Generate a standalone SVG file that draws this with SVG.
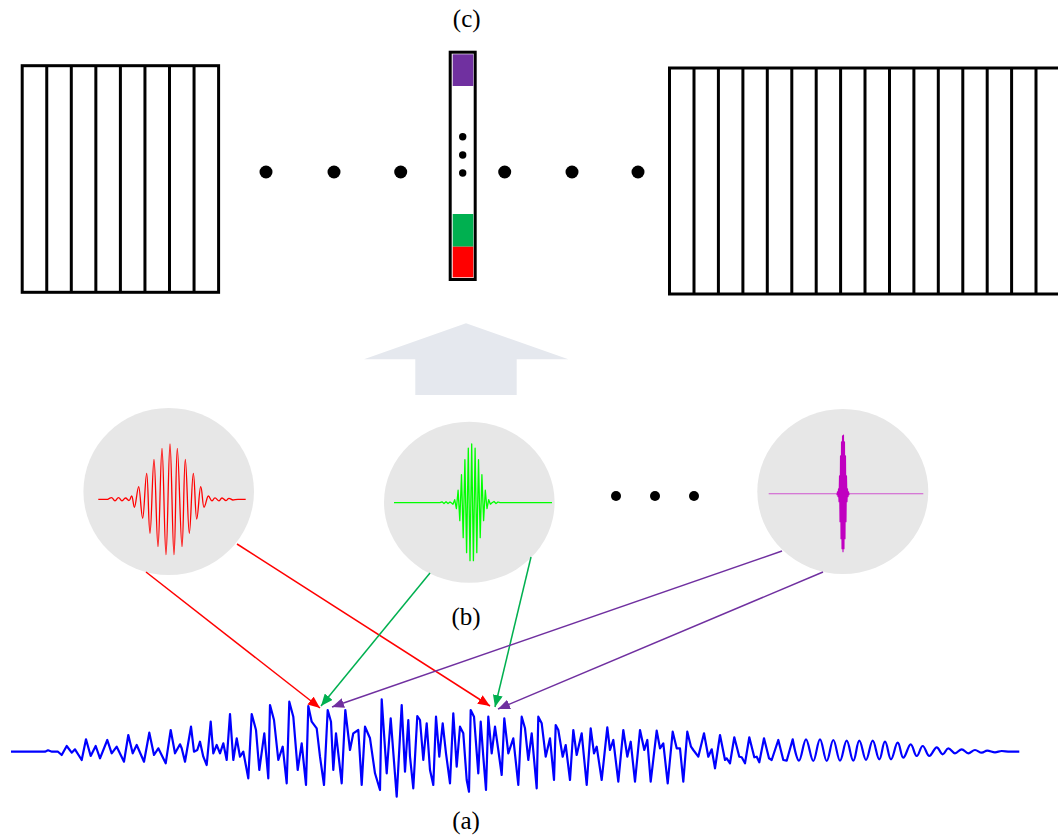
<svg xmlns="http://www.w3.org/2000/svg" width="1058" height="839" viewBox="0 0 1058 839">
  <style>
    .grid { fill: #ffffff; stroke: #000000; stroke-width: 3; }
    .bar { stroke: #000000; stroke-width: 3; }
    .dot { fill: #000000; }
    .atom { fill: #e7e7e7; }
    .wave { fill: none; stroke-linejoin: round; }
    .link { fill: none; stroke-width: 1.5; }
    .label { font-family: "Liberation Serif", "Times New Roman", serif; font-size: 25px; fill: #000000; text-anchor: middle; }
  </style>
  <defs>
    <marker id="head-red" viewBox="0 0 12 10" refX="12" refY="5" markerWidth="12" markerHeight="10" markerUnits="userSpaceOnUse" orient="auto">
      <path d="M0,0 L12,5 L0,10 z" fill="#ff0000"/>
    </marker>
    <marker id="head-green" viewBox="0 0 12 10" refX="12" refY="5" markerWidth="12" markerHeight="10" markerUnits="userSpaceOnUse" orient="auto">
      <path d="M0,0 L12,5 L0,10 z" fill="#00b050"/>
    </marker>
    <marker id="head-purple" viewBox="0 0 12 10" refX="12" refY="5" markerWidth="12" markerHeight="10" markerUnits="userSpaceOnUse" orient="auto">
      <path d="M0,0 L12,5 L0,10 z" fill="#7030a0"/>
    </marker>
  </defs>

  <rect width="1058" height="839" fill="#ffffff"/>

  <!-- dictionary block on the left: 8 columns -->
  <g id="grid-left">
    <rect class="grid" x="22.2" y="65.7" width="196.4" height="226.6"/>
    <path class="bar" d="M46.75,65.7V292.3 M71.3,65.7V292.3 M95.85,65.7V292.3 M120.4,65.7V292.3 M144.95,65.7V292.3 M169.5,65.7V292.3 M194.05,65.7V292.3"/>
  </g>

  <!-- selected column with coloured coefficients -->
  <g id="feature-column">
    <rect x="450.2" y="52.2" width="25" height="227.3" fill="#ffffff" stroke="#000000" stroke-width="3"/>
    <rect x="452.7" y="54.3" width="20.6" height="31.7" fill="#7030a0"/>
    <rect x="452.7" y="214" width="20.6" height="32.7" fill="#00b050"/>
    <rect x="452.7" y="246.7" width="20.6" height="30.6" fill="#ff0000"/>
    <circle class="dot" cx="462.7" cy="136.7" r="3.7"/>
    <circle class="dot" cx="462.7" cy="155" r="3.7"/>
    <circle class="dot" cx="462.7" cy="173" r="3.7"/>
  </g>

  <!-- dictionary block on the right: 16 columns, runs past the edge -->
  <g id="grid-right">
    <rect class="grid" x="669.5" y="68" width="391" height="226"/>
    <path class="bar" d="M694,68V294 M718.4,68V294 M742.9,68V294 M767.3,68V294 M791.8,68V294 M816.2,68V294 M840.6,68V294 M865,68V294 M889.5,68V294 M913.9,68V294 M938.3,68V294 M962.8,68V294 M987.2,68V294 M1011.6,68V294 M1036,68V294"/>
  </g>

  <g id="ellipsis-top">
    <circle class="dot" cx="266" cy="172" r="6.5"/>
    <circle class="dot" cx="334" cy="172" r="6.5"/>
    <circle class="dot" cx="400.7" cy="172" r="6.5"/>
    <circle class="dot" cx="504.7" cy="172" r="6.5"/>
    <circle class="dot" cx="572" cy="172" r="6.5"/>
    <circle class="dot" cx="638" cy="172" r="6.5"/>
  </g>

  <!-- broad upward arrow -->
  <g id="lift-arrow">
    <polygon points="466,323.3 568.3,359.3 516.7,359.3 516.7,395 415.3,395 415.3,359.3 364,359.3" fill="#e5e8ee"/>
  </g>

  <!-- atoms -->
  <g id="atom-red">
    <ellipse class="atom" cx="168.7" cy="491.5" rx="85.3" ry="83.5"/>
    <path class="wave" stroke="#ff0000" stroke-width="1.3" d="M98.3,499.3 L108,499.3 S110,497.6 111.5,497.6 S113.5,500.8 115,500.8 S117,497.6 118.5,497.6 S120.5,500.8 122,500.8 S124,498 125.5,498 S127.5,500.5 129,500.5 S130.5,496 131.7,496 S133.3,507.3 134.5,507.3 S137.3,486.7 138.7,486.7 S141.2,518.3 142.7,518.3 S145.2,473.3 146.7,473.3 S148.5,533.3 150,533.3 S152.5,459.3 154,459.3 S156.5,546.7 158,546.7 S160.5,448.3 162,448.3 S164.5,554.7 166,554.7 S168.5,444 170,444 S172.5,554.7 174,554.7 S175.8,448.3 177.3,448.3 S180.5,546.7 182,546.7 S183.8,459.3 185.3,459.3 S187.8,533.3 189.3,533.3 S191.8,473.3 193.3,473.3 S195.2,519 196.7,519 S199.2,486.7 200.7,486.7 S202.5,507.3 204,507.3 S206.8,496 208.3,496 S210.5,500.8 212,500.8 S213.5,497.8 215,497.8 S217.5,500.8 219,500.8 S220.5,498 222,498 S224.5,500.6 226,500.6 S227.5,498.3 229,498.3 S231.5,500 233,500 S236,499.3 238,499.3 L245.7,499.3"/>
  </g>

  <g id="atom-green">
    <ellipse class="atom" cx="469.3" cy="502.2" rx="85.3" ry="80.5"/>
    <path class="wave" stroke="#00ff00" stroke-width="1.3" d="M394,502.7 L440,502.7 442,501.8 444,503.5 446,501.8 448,503.6 450,502 451.5,503 453,504.2 454.7,499.7 456.4,508.7 458.1,490.2 459.8,520.7 461.5,474.7 463.2,537.7 464.9,459.7 466.6,552.7 468.3,448.2 470,560.7 471.7,444 473.4,560.7 475.1,448.2 476.8,552.7 478.5,459.7 480.2,537.7 481.9,474.7 483.6,520.7 485.3,490.2 487,508.7 488.7,499.7 490.4,504.2 492,502.7 494,501.5 496,503.5 498,502 500,502.7 L552,502.7"/>
  </g>

  <g id="ellipsis-atoms">
    <circle class="dot" cx="616" cy="496" r="5"/>
    <circle class="dot" cx="655" cy="496" r="5"/>
    <circle class="dot" cx="694" cy="496" r="5"/>
  </g>

  <g id="atom-purple">
    <ellipse class="atom" cx="842.8" cy="491.5" rx="85.5" ry="82.5"/>
    <path class="wave" stroke="#cf55cf" stroke-width="1.1" d="M768.7,493.7 L923.3,493.7"/>
    <path class="wave" stroke="#c000c0" stroke-width="1.1" d="M837,493.7 L837,494.7 837.5,491.7 838,496.7 838.5,488.7 839,501.7 839.5,475.7 840,521.7 840.5,455.7 841,538.7 841.5,441.7 842,548.7 842.5,435.7 843,551.7 843.5,435 844,548.7 844.5,441.7 845,538.7 845.5,455.7 846,521.7 846.5,475.7 847,501.7 847.5,488.7 848,496.7 848.5,491.7 849,494.7 849,493.7"/>
  </g>

  <!-- mixed signal -->
  <g id="signal">
    <path class="wave" stroke="#0000ff" stroke-width="2.2" d="M11,751.7 L45,751.7 48,750.3 52,751.7 58,751.7 61.7,755 66.7,746 71.7,752.7 75,749.3 81.7,760 86,739.3 90.7,756 95.7,746 100,758.3 107.3,740 111.7,753.3 116.7,746.7 124,761.7 128.3,735 132.7,753.3 136.7,745 144,761.7 149.3,732.7 154,755 158.3,748.3 165.7,763.3 170.7,730 175,753.3 180,744.3 181.7,748.3 185,761.7 191,726.7 194,751.7 197.3,750 200,741.7 203.3,756.7 206.7,765 210.7,721.7 213.3,753.3 216.7,745 220,753.3 223.3,743.3 226.7,760 230,714 233.3,760 236.7,738.3 240,756.7 243.3,751.7 248.3,778.3 251.7,714 256,730 259.3,770 264.3,733.3 268.3,778.3 270,705 274,720 278.3,760 282.7,746.7 286.7,783.3 289.3,701.7 293.3,716.7 297.7,770 301.7,743.3 306,785 308.3,706 311.7,721.7 316.7,728.3 320,756.7 324,785 327.7,710 331,721.7 333.3,770 336,733.3 341.7,783.3 345.3,710 350,750 353.3,733.3 358.3,730 361.7,785 365,726.7 370,738.3 375,773.3 380,790 381.7,699.3 386.7,773.3 390.7,718.3 396.7,796.7 401.7,705 405,771.7 408.3,720 410,756.7 413.3,788.3 417.3,716 420,720 423.3,760 426.7,723.3 430,770 433.3,785 436,716.7 439.3,756.7 442.7,723.3 446,753.3 450,783.3 453.3,713.3 456.7,766.7 460,726.7 463.3,733.3 466.7,780 469,791.7 470.7,710 474,716.7 478.3,773.3 480.7,721.7 483.3,756.7 486,790 488.3,716.7 491.7,753.3 495,726.7 498.3,750 501.7,775 504.3,718.3 508.3,753.3 513.3,738.3 518.3,785 521.7,716.7 525,728.3 528.3,760 531.7,733.3 536.7,788.3 538.3,716.7 541.7,723.3 545.7,756.7 550,738.3 554,780 555.7,725 558.3,730 562.7,756.7 565.7,745 570,780 573.3,730 576.7,755 581.7,733.3 586.7,785 590.7,728.3 594,753.3 596.7,746.7 601.7,780 607.3,727.3 610,750 613.3,740 618.3,781.7 623.3,730 627.3,756.7 630.7,741.7 635,781.7 640,730 644.3,750 647.3,740 650.7,781.7 656.7,730.7 660,748.3 663.3,743.3 667.7,783.3 672.7,731.7 676.7,748.3 680,748.3 683.3,781.7 687.3,731.7 691,746.7 693.3,750 698.3,756.7 704,733.3 708.3,756.7 711.7,749.3 715,768.3 720,735 725,760 726.7,758.3 730,763.3 734.3,737.3 739.3,756.7 741.7,757.3 745,763.3 749.3,737.3 754.3,757.3 756.7,756.7 759.3,762.3 764,738.3 769,758.3 771.7,760 778.3,740 783.3,760 786.7,760.7 792.7,739.3 S796.5,760.7 799,760.7 S803.5,739.3 806,739.3 S810.8,761 813.3,761 S817.5,739.3 820,739.3 S824.2,761 826.7,761 S830.8,740 833.3,740 S837.5,760.7 840,760.7 S844.2,740.7 846.7,740.7 S850.8,760.7 853.3,760.7 S856.8,740.7 859.3,740.7 S863.5,760 866,760 S870.2,740.7 872.7,740.7 S876.8,759.3 879.3,759.3 S882.5,741.7 885,741.7 S888.5,759.3 891,759.3 S895.2,742.7 897.7,742.7 S900.8,757.7 903.3,757.7 S908.2,744.3 910.7,744.3 S914.2,756 916.7,756 S920.2,746 922.7,746 S926.8,756 929.3,756 S934.2,747.3 936.7,747.3 S940.2,754.3 942.7,754.3 S945.8,748.3 948.3,748.3 S952.5,753.3 955,753.3 S959.2,749.3 961.7,749.3 S965.8,753.3 968.3,753.3 S972.5,750 975,750 S979.2,752.7 981.7,752.7 S984.8,750.7 987.3,750.7 S992.5,752.3 995,752.3 S999.2,751 1001.7,751 S1007,751.7 1010,751.7 L1019.3,751.7"/>
  </g>

  <!-- atom to signal links -->
  <g id="connectors">
    <line class="link" stroke="#ff0000" x1="146" y1="572" x2="320" y2="708" marker-end="url(#head-red)"/>
    <line class="link" stroke="#ff0000" x1="237" y1="544" x2="490" y2="706" marker-end="url(#head-red)"/>
    <line class="link" stroke="#00b050" x1="430" y1="573" x2="321" y2="706" marker-end="url(#head-green)"/>
    <line class="link" stroke="#00b050" x1="531" y1="557" x2="495" y2="707" marker-end="url(#head-green)"/>
    <line class="link" stroke="#7030a0" x1="782" y1="551" x2="332" y2="707" marker-end="url(#head-purple)"/>
    <line class="link" stroke="#7030a0" x1="823" y1="572" x2="498" y2="709" marker-end="url(#head-purple)"/>
  </g>

  <g id="labels">
    <text class="label" x="466.7" y="27.3">(c)</text>
    <text class="label" x="466" y="624.6">(b)</text>
    <text class="label" x="466" y="829">(a)</text>
  </g>
</svg>
